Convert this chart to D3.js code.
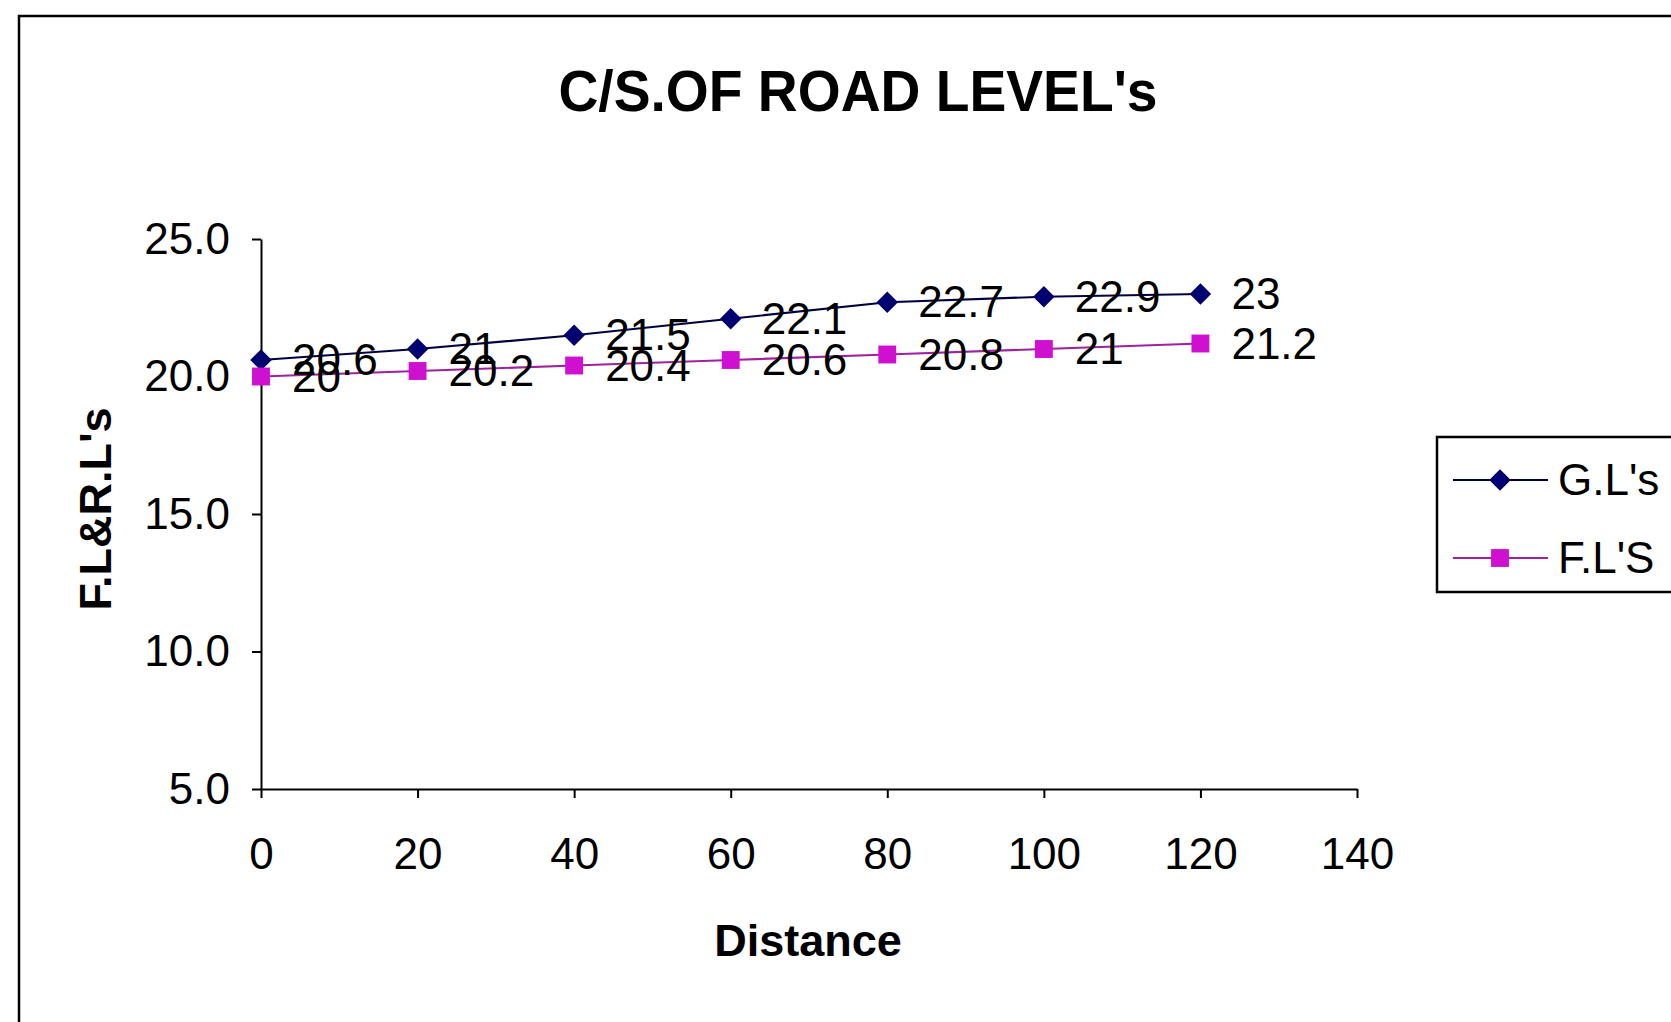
<!DOCTYPE html>
<html>
<head>
<meta charset="utf-8">
<script src="https://cdn.jsdelivr.net/npm/d3@7"></script>
<style>
  html, body { margin: 0; padding: 0; background: #ffffff; }
  svg { display: block; }
  text { font-family: "Liberation Sans", Arial, sans-serif; fill: #000; }
</style>
</head>
<body>
<svg id="chart" width="1671" height="1022"></svg>
<script>
// Road cross-section levels along the chainage
const distances = [0, 20, 40, 60, 80, 100, 120];
const groundLevels = [20.6, 21, 21.5, 22.1, 22.7, 22.9, 23];
const formationLevels = [20, 20.2, 20.4, 20.6, 20.8, 21, 21.2];
const seriesNames = ["G.L's", "F.L'S"];
const xTicks = [0, 20, 40, 60, 80, 100, 120, 140];
const yTicks = [5, 10, 15, 20, 25];

const svg = d3.select("#chart");

// chart frame
svg.append("rect")
  .attr("x", 19).attr("y", 16)
  .attr("width", 1720).attr("height", 1040)
  .attr("fill", "none").attr("stroke", "#000").attr("stroke-width", 2.5);

const x = d3.scaleLinear().domain([0, 140]).range([261, 1357]);
const y = d3.scaleLinear().domain([5, 25]).range([789, 239]);

// title
svg.append("text")
  .attr("x", 858).attr("y", 111)
  .attr("text-anchor", "middle")
  .attr("font-weight", "bold")
  .attr("font-size", 57)
  .attr("textLength", 599)
  .attr("lengthAdjust", "spacingAndGlyphs")
  .text("C/S.OF ROAD LEVEL's");

// axes
const yAxis = d3.axisLeft(y)
  .tickValues(yTicks)
  .tickFormat(d3.format(".1f"))
  .tickSize(9).tickSizeOuter(0).tickPadding(22);
const xAxis = d3.axisBottom(x)
  .tickValues(xTicks)
  .tickFormat(d3.format("d"))
  .tickSize(9).tickSizeOuter(0).tickPadding(40);

const gy = svg.append("g").attr("transform", `translate(${x(0)},0)`).call(yAxis);
const gx = svg.append("g").attr("transform", `translate(0,${y(5)})`).call(xAxis);

[gx, gy].forEach(g => {
  g.selectAll("path, line").attr("stroke", "#000").attr("stroke-width", 2);
  g.selectAll("text")
    .attr("font-size", 44)
    .attr("font-family", "'Liberation Sans', Arial, sans-serif")
    .attr("fill", "#000");
});

// axis titles
svg.append("text")
  .attr("x", 808).attr("y", 956)
  .attr("text-anchor", "middle")
  .attr("font-weight", "bold")
  .attr("font-size", 45)
  .text("Distance");

svg.append("text")
  .attr("transform", "translate(111,509) rotate(-90)")
  .attr("text-anchor", "middle")
  .attr("font-weight", "bold")
  .attr("font-size", 45)
  .text("F.L&R.L's");

// square turned 45 degrees (Excel-style diamond marker)
const wideDiamond = {
  draw(context, size) {
    const r = Math.sqrt(size / 2);
    context.moveTo(0, -r);
    context.lineTo(r, 0);
    context.lineTo(0, r);
    context.lineTo(-r, 0);
    context.closePath();
  }
};

// series
const series = [
  { name: seriesNames[0], values: groundLevels, line: "#000040", fill: "#000070", shape: wideDiamond, size: 230 },
  { name: seriesNames[1], values: formationLevels, line: "#a020a0", fill: "#d010d0", shape: d3.symbolSquare, size: 320 }
];

const line = d3.line().x(d => x(d[0])).y(d => y(d[1]));

series.forEach(s => {
  const pts = distances.map((d, i) => [d, s.values[i]]);
  svg.append("path")
    .datum(pts)
    .attr("d", line)
    .attr("fill", "none")
    .attr("stroke", s.line)
    .attr("stroke-width", 2.2);
  svg.append("g").selectAll("path")
    .data(pts).join("path")
    .attr("transform", d => `translate(${x(d[0])},${y(d[1])})`)
    .attr("d", d3.symbol().type(s.shape).size(s.size))
    .attr("fill", s.fill);
});

// value labels, to the right of each point
series.forEach(s => {
  svg.append("g").selectAll("text")
    .data(distances.map((d, i) => [d, s.values[i]]))
    .join("text")
    .attr("x", d => x(d[0]) + 31)
    .attr("y", d => y(d[1]) + 15)
    .attr("font-size", 44)
    .text(d => d[1]);
});

// legend
const legend = svg.append("g");
legend.append("rect")
  .attr("x", 1437).attr("y", 437)
  .attr("width", 300).attr("height", 155)
  .attr("fill", "#fff").attr("stroke", "#000").attr("stroke-width", 2.5);

series.forEach((s, i) => {
  const ly = 480 + i * 78;
  legend.append("line")
    .attr("x1", 1453).attr("x2", 1548)
    .attr("y1", ly).attr("y2", ly)
    .attr("stroke", s.line).attr("stroke-width", 2.2);
  legend.append("path")
    .attr("transform", `translate(1500,${ly})`)
    .attr("d", d3.symbol().type(s.shape).size(s.size))
    .attr("fill", s.fill);
  legend.append("text")
    .attr("x", 1558).attr("y", ly + 15)
    .attr("font-size", 44)
    .text(s.name);
});
</script>
</body>
</html>
